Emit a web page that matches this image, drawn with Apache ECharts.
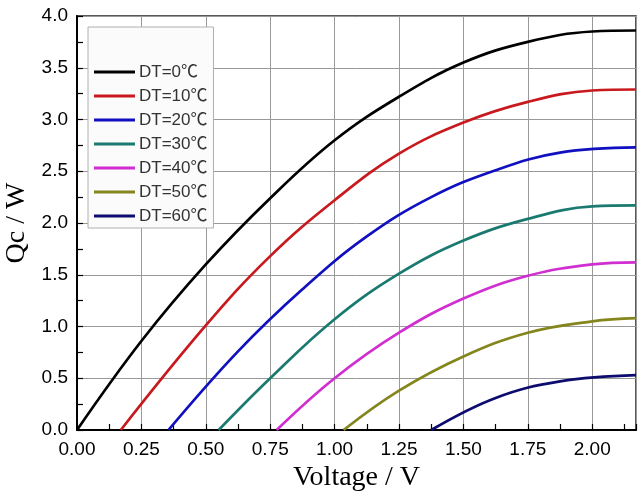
<!DOCTYPE html>
<html>
<head>
<meta charset="utf-8">
<script src="https://cdn.jsdelivr.net/npm/echarts@6/dist/echarts.min.js"></script>
<style>html,body{margin:0;padding:0;background:#fff;}#c{width:638px;height:497px;}</style>
</head>
<body>
<div id="c"></div>
<script>
// Data: [Voltage (V), Qc (W)]
const seriesNames = ['DT=0℃','DT=10℃','DT=20℃','DT=30℃','DT=40℃','DT=50℃','DT=60℃'];
const dt0  = [[0,0],[0.25,0.86],[0.5,1.60],[0.75,2.24],[1.0,2.80],[1.25,3.22],[1.5,3.55],[1.75,3.75],[2.0,3.85],[2.17,3.86]];
const dt10 = [[0.17,0],[0.5,1.01],[0.75,1.68],[1.0,2.22],[1.25,2.67],[1.5,2.97],[1.75,3.17],[2.0,3.28],[2.17,3.29]];
const dt20 = [[0.355,0],[0.625,0.76],[0.875,1.36],[1.125,1.87],[1.375,2.25],[1.625,2.51],[1.875,2.68],[2.17,2.73]];
const dt30 = [[0.55,0],[0.75,0.50],[1.0,1.07],[1.25,1.51],[1.5,1.83],[1.75,2.04],[2.0,2.16],[2.17,2.17]];
const dt40 = [[0.775,0],[1.0,0.50],[1.25,0.94],[1.5,1.27],[1.75,1.49],[2.0,1.60],[2.17,1.62]];
const dt50 = [[1.035,0],[1.25,0.38],[1.5,0.71],[1.75,0.94],[2.0,1.05],[2.17,1.08]];
const dt60 = [[1.375,0],[1.625,0.31],[1.875,0.47],[2.17,0.53]];
const allData = [dt0, dt10, dt20, dt30, dt40, dt50, dt60];
const colors = ['#000000','#c8191e','#1010c0','#1a7a70','#d02ed0','#85851e','#0c0c6e'];

const chart = echarts.init(document.getElementById('c'), null, {renderer:'canvas'});
const sans = 'Liberation Sans, Arial, Noto Sans CJK SC, sans-serif';
const serif = 'Liberation Serif, Times New Roman, serif';

chart.setOption({
  animation: false,
  backgroundColor: '#ffffff',
  grid: {left: 77, top: 16, right: 2, bottom: 67, show: true, borderColor: '#222', borderWidth: 1.5,
    backgroundColor: 'transparent', containLabel: false, outerBoundsMode: 'none'},
  legend: {
    orient: 'vertical',
    left: 88, top: 27,
    width: 125,
    padding: [36, 6, 3, 6],
    backgroundColor: '#fbfbfb',
    borderColor: '#b0b0b0',
    borderWidth: 1,
    icon: 'rect',
    itemWidth: 41,
    itemHeight: 3,
    itemGap: 6,
    textStyle: {fontFamily: sans, fontSize: 17, color: '#333', lineHeight: 18, padding: [0,0,0,-1]},
    data: seriesNames
  },
  xAxis: {
    type: 'value', min: 0, max: 2.17, interval: 0.25,
    name: 'Voltage / V', nameLocation: 'middle', nameGap: 31,
    nameTextStyle: {fontFamily: serif, fontSize: 28, color: '#000'},
    axisLine: {show: true, lineStyle: {color: '#000', width: 2}},
    axisTick: {show: true, inside: true, length: 6, lineStyle: {color: '#000', width: 1.2}},
    minorTick: {show: true, splitNumber: 2, length: 6, lineStyle: {color: '#000', width: 1.2}},
    axisLabel: {fontFamily: sans, fontSize: 19, color: '#000', margin: 10, showMaxLabel: false,
      formatter: v => v.toFixed(2)},
    splitLine: {show: true, lineStyle: {color: '#999', width: 1}}
  },
  yAxis: {
    type: 'value', min: 0, max: 4, interval: 0.5,
    name: 'Qc / W', nameLocation: 'middle', nameGap: 44, nameRotate: 90,
    nameTextStyle: {fontFamily: serif, fontSize: 28, color: '#000'},
    axisLine: {show: true, lineStyle: {color: '#000', width: 2}},
    axisTick: {show: true, inside: true, length: 6, lineStyle: {color: '#000', width: 1.2}},
    minorTick: {show: true, splitNumber: 2, length: 6, lineStyle: {color: '#000', width: 1.2}},
    axisLabel: {fontFamily: sans, fontSize: 19, color: '#000', margin: 9,
      formatter: v => v.toFixed(1)},
    splitLine: {show: true, lineStyle: {color: '#999', width: 1}}
  },
  series: allData.map((d, i) => ({
    name: seriesNames[i],
    type: 'line',
    data: d,
    smooth: 0.4,
    symbol: 'none',
    clip: true,
    lineStyle: {color: colors[i], width: 2.7},
    itemStyle: {color: colors[i]}
  }))
});
</script>
</body>
</html>
